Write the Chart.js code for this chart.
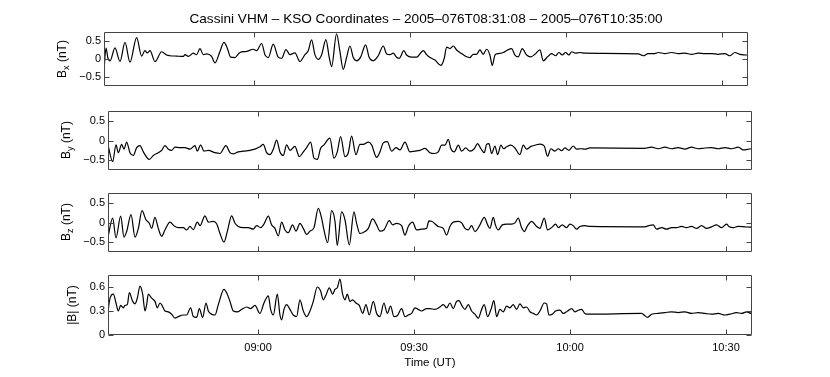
<!DOCTYPE html>
<html>
<head>
<meta charset="utf-8">
<script src="https://cdn.jsdelivr.net/npm/chart.js@4.4.1/dist/chart.umd.min.js"></script>
<style>
  body { margin: 0; background: #fff; }
  #wrap { position: relative; width: 830px; height: 377px; overflow: hidden; }
  canvas { position: absolute; left: 0; }
  .yl { position: absolute; transform: translate(-50%, -50%) rotate(-90deg); font: 12px "Liberation Sans", Arial, sans-serif; white-space: nowrap; color: #000; }
  .yl sub { font-size: 9px; vertical-align: -3px; line-height: 0; }
</style>
</head>
<body>
<div id="wrap">
  <canvas id="c1" width="830" height="96" style="top:0px"></canvas>
  <canvas id="c2" width="830" height="79" style="top:101px"></canvas>
  <canvas id="c3" width="830" height="79" style="top:183px"></canvas>
  <canvas id="c4" width="830" height="112" style="top:265px"></canvas>
  <div class="yl" style="left:62px;top:59px">B<sub>x</sub> (nT)</div>
  <div class="yl" style="left:66px;top:140px">B<sub>y</sub> (nT)</div>
  <div class="yl" style="left:66px;top:222px">B<sub>z</sub> (nT)</div>
  <div class="yl" style="left:72px;top:305px">|B| (nT)</div>
</div>
<script>
// time in minutes after 08:00 UT, field in nT
const tStart = 31 + 8 / 60;   // 08:31:08
const tEnd = 155;             // 10:35:00
const xTickValues = [60, 90, 120, 150];
const xTickLabels = ['09:00', '09:30', '10:00', '10:30'];
const compTicks = [-0.5, 0, 0.5];
const compTickLabels = ['\u22120.5', '0', '0.5'];
const magTicks = [0, 0.3, 0.6];
const magTickLabels = ['0', '0.3', '0.6'];

const bxTime = [31.13,31.52,31.90,32.29,33.25,34.21,35.17,36.13,37.41,38.37,39.01,39.46,39.98,40.94,42.22,43.18,43.82,45.10,46.39,46.71,47.35,48.31,48.95,49.59,50.23,50.87,51.83,52.48,53.44,54.21,54.85,55.49,56.32,57.28,58.56,59.85,60.49,61.45,62.09,62.73,63.69,64.65,65.29,66.13,66.90,67.86,68.82,69.78,70.42,71.06,71.70,72.35,72.99,73.82,74.46,74.91,75.87,76.51,77.15,77.79,78.44,79.08,79.72,80.49,81.45,82.15,82.92,83.88,84.85,85.49,86.13,86.77,87.41,87.92,88.82,89.33,90.29,91.26,92.54,93.18,93.83,94.79,95.94,96.58,97.03,97.67,98.31,98.95,99.92,100.88,101.52,102.16,102.80,103.44,104.08,104.72,105.36,105.81,106.33,106.97,107.93,108.76,109.53,110.17,110.81,111.58,112.42,113.25,114.02,114.98,115.62,116.45,117.22,117.99,118.63,119.27,119.92,120.56,121.07,121.84,122.67,123.63,133.89,134.85,135.81,137.09,137.73,139.02,140.30,141.58,142.86,144.15,145.43,146.71,147.99,149.27,150.56,151.52,152.48,153.44,154.73,155.00];
const bxVal = [-0.32,0.30,0.02,-0.05,0.31,-0.07,0.46,-0.09,0.59,0.08,0.23,0.17,0.23,-0.07,0.20,0.11,0.09,0.08,0.07,0.12,0.07,0.16,0.12,0.29,0.12,0.14,0.07,-0.11,0.21,0.46,0.30,0.05,0.04,0.18,0.21,0.27,0.23,0.43,0.12,0.04,0.41,0.05,0.02,0.26,0.12,0.17,-0.07,0.12,0.23,0.53,0.12,-0.01,0.12,0.54,0.04,-0.21,0.70,0.21,-0.29,0.04,0.36,0.04,-0.05,0.05,0.39,0.04,-0.05,0.09,0.36,0.14,0.12,0.16,0.05,0.02,0.23,0.11,0.05,0.05,0.23,0.12,0.04,-0.03,-0.18,0.02,0.33,0.29,0.36,0.25,0.15,0.06,0.04,0.13,0.13,0.25,0.13,0.27,0.11,-0.18,0.11,0.15,0.18,0.25,0.29,0.11,0.06,0.29,0.11,0.06,0.13,0.25,-0.05,0.06,0.15,0.09,0.18,0.11,0.18,0.11,0.20,0.16,0.18,0.16,0.14,0.09,0.15,0.15,0.18,0.15,0.18,0.15,0.16,0.13,0.16,0.15,0.15,0.13,0.15,0.09,0.18,0.13,0.11,0.11];

const byTime = [31.13,32.03,32.67,33.12,33.76,34.21,34.72,35.36,36.00,36.65,37.29,37.93,39.08,39.85,40.81,41.45,42.09,42.74,43.38,44.02,44.98,45.94,46.90,47.86,48.31,48.95,49.59,50.43,51.71,52.67,53.82,54.59,55.24,56.20,57.16,58.44,59.40,60.36,61.00,61.65,62.29,62.93,63.57,64.21,64.85,65.49,66.13,67.09,67.93,68.70,69.34,70.11,70.75,71.39,72.03,72.67,73.82,74.59,75.23,75.88,76.71,77.35,77.99,78.82,79.59,80.23,81.20,81.84,82.80,83.44,84.08,84.85,85.68,86.52,87.29,88.25,89.21,90.17,91.13,92.09,93.05,93.89,94.66,95.30,95.94,96.58,97.09,97.74,98.51,99.15,99.92,100.75,101.58,102.22,102.86,103.50,103.95,104.40,104.92,105.56,106.07,106.71,107.22,107.80,108.63,109.40,110.36,111.00,111.65,112.48,113.25,114.21,115.04,115.68,116.32,117.09,117.74,118.38,119.02,119.79,120.62,121.26,122.09,122.86,123.82,134.08,134.72,135.69,136.97,138.25,139.53,140.81,142.09,143.38,144.66,145.94,147.22,148.50,149.79,151.07,152.35,153.31,154.91,155.00];
const byVal = [-0.11,-0.54,-0.11,-0.31,-0.10,-0.22,-0.04,-0.31,-0.38,-0.18,-0.13,-0.29,-0.48,-0.38,-0.31,-0.25,-0.13,-0.22,-0.25,-0.17,-0.18,-0.18,-0.22,-0.13,-0.27,-0.11,-0.27,-0.25,-0.31,-0.33,-0.13,-0.31,-0.34,-0.29,-0.27,-0.25,-0.22,-0.16,-0.10,-0.31,-0.36,-0.22,0.01,-0.29,-0.38,-0.11,-0.25,-0.15,-0.41,-0.29,-0.18,-0.04,-0.45,-0.48,-0.20,-0.11,0.06,-0.45,-0.29,0.10,-0.41,-0.31,0.11,-0.36,-0.10,-0.10,-0.04,-0.11,-0.43,-0.29,-0.06,-0.03,-0.27,-0.18,-0.24,-0.04,-0.29,-0.27,-0.25,-0.20,-0.31,-0.33,-0.29,-0.12,-0.12,0.03,-0.21,-0.29,-0.12,-0.27,-0.19,-0.27,-0.21,-0.08,-0.21,-0.31,-0.10,-0.08,-0.33,-0.14,-0.36,-0.12,-0.21,-0.16,-0.12,-0.19,-0.36,-0.12,-0.22,-0.15,-0.12,-0.09,-0.14,-0.40,-0.21,-0.27,-0.21,-0.26,-0.19,-0.25,-0.14,-0.22,-0.21,-0.22,-0.19,-0.20,-0.19,-0.17,-0.21,-0.17,-0.21,-0.18,-0.22,-0.17,-0.21,-0.19,-0.18,-0.21,-0.18,-0.21,-0.17,-0.24,-0.21,-0.21];

const bzTime = [31.13,32.03,32.67,33.57,34.21,34.72,35.56,36.33,36.97,37.67,38.44,39.08,39.53,40.17,40.81,41.45,42.09,43.06,43.82,44.66,45.62,46.26,46.90,47.54,48.31,48.83,49.79,50.43,51.39,52.03,52.67,53.44,54.08,54.91,55.56,56.20,57.16,58.12,59.08,59.72,60.49,61.13,61.97,62.61,63.25,63.89,64.53,65.17,65.81,66.64,67.29,68.05,68.70,69.34,69.98,70.75,71.58,72.22,72.67,73.38,74.14,74.79,75.23,76.07,76.71,77.54,78.44,78.95,79.59,80.56,81.20,82.03,82.80,83.44,84.21,85.23,85.88,86.64,87.61,88.25,88.89,89.72,90.49,91.45,92.41,92.86,93.38,94.66,95.62,96.26,96.90,97.54,98.51,99.15,99.79,100.43,101.07,101.71,102.67,103.50,104.15,104.59,105.24,105.69,106.20,106.97,107.80,108.76,109.40,110.04,110.68,111.20,111.84,112.61,113.57,114.21,115.04,115.68,116.45,117.22,117.74,118.50,119.34,119.98,120.62,121.26,121.90,122.86,123.82,134.40,135.17,136.00,136.64,137.61,138.57,139.53,140.49,141.45,142.41,143.38,144.34,145.30,146.26,147.22,148.18,149.14,150.11,150.56,151.39,152.35,153.63,154.91,155.00];
const bzVal = [-0.37,0.11,-0.39,0.16,-0.37,-0.23,0.20,-0.37,-0.15,0.30,0.07,-0.02,-0.15,0.13,-0.15,-0.35,-0.19,0.01,-0.08,-0.13,-0.13,-0.19,-0.10,-0.18,0.01,-0.08,0.17,0.01,0.03,-0.03,-0.28,-0.50,-0.23,0.17,-0.02,-0.10,-0.13,-0.13,-0.17,-0.08,-0.13,-0.04,0.16,-0.06,-0.15,-0.34,0.01,-0.19,-0.26,-0.06,-0.22,-0.02,-0.15,-0.30,-0.22,-0.13,0.36,0.11,-0.19,-0.51,0.30,0.03,-0.58,0.27,0.07,-0.57,0.27,-0.02,-0.28,-0.23,-0.15,0.09,-0.06,-0.22,-0.19,0.05,-0.06,-0.02,-0.08,-0.32,-0.10,0.01,-0.19,-0.17,-0.15,0.04,0.03,-0.10,-0.15,-0.32,-0.10,0.01,0.03,-0.01,-0.15,-0.19,-0.08,-0.23,-0.06,0.13,-0.06,-0.15,0.13,-0.08,-0.19,-0.06,-0.04,-0.04,-0.01,0.11,-0.13,-0.23,-0.08,0.03,-0.10,-0.15,0.11,-0.19,-0.13,-0.04,-0.13,-0.06,-0.13,-0.04,-0.08,-0.17,-0.10,-0.08,-0.10,-0.11,-0.08,-0.06,-0.17,-0.13,-0.17,-0.13,-0.13,-0.10,-0.13,-0.10,-0.15,-0.08,-0.15,-0.11,-0.06,-0.13,-0.04,-0.10,-0.13,-0.10,-0.11,-0.12,-0.12];

const btTime = [31.13,31.39,32.16,32.67,33.12,33.57,34.08,34.40,34.85,35.24,35.88,36.33,36.77,37.29,37.80,38.25,38.57,38.89,39.53,40.17,40.62,41.13,41.45,42.09,42.74,43.38,44.02,44.66,45.62,46.26,47.03,47.54,48.18,48.70,49.34,49.98,50.43,51.07,51.71,52.35,53.44,54.08,54.59,55.24,56.00,56.84,57.80,58.57,59.40,60.36,61.13,61.97,62.41,62.93,63.70,64.21,64.53,64.98,65.49,66.13,66.77,67.41,68.05,68.70,69.34,69.98,70.62,71.39,72.03,72.54,73.06,73.70,74.34,74.79,75.23,75.75,76.26,76.71,77.16,77.67,78.18,78.82,79.47,80.11,80.75,81.39,82.16,82.80,83.44,84.21,84.85,85.49,86.13,86.77,87.61,88.25,88.89,89.53,90.17,90.81,91.45,92.41,93.06,94.02,94.98,95.62,96.26,96.90,97.54,98.18,98.63,99.27,99.79,100.43,101.07,101.71,102.35,102.99,103.50,104.15,104.79,105.36,105.88,106.52,107.16,107.80,108.44,109.08,109.72,110.36,111.00,111.65,112.29,112.93,113.57,114.21,115.04,115.49,115.94,116.58,117.22,118.06,118.70,119.53,120.30,120.94,121.58,122.22,122.86,123.63,133.76,134.40,134.91,135.69,136.97,138.25,139.53,140.81,142.09,143.38,144.66,145.94,147.22,148.50,149.79,150.75,152.03,153.00,153.96,154.91,155.00];
const btVal = [0.27,0.42,0.51,0.40,0.30,0.37,0.34,0.37,0.38,0.53,0.42,0.39,0.46,0.61,0.51,0.30,0.38,0.51,0.46,0.42,0.34,0.40,0.38,0.30,0.29,0.26,0.21,0.23,0.25,0.25,0.34,0.23,0.22,0.33,0.22,0.40,0.30,0.26,0.25,0.38,0.57,0.51,0.42,0.30,0.29,0.32,0.35,0.33,0.37,0.27,0.40,0.49,0.32,0.25,0.51,0.25,0.19,0.32,0.38,0.32,0.25,0.23,0.44,0.30,0.23,0.30,0.42,0.60,0.55,0.44,0.50,0.59,0.51,0.57,0.59,0.70,0.51,0.44,0.51,0.42,0.44,0.40,0.37,0.27,0.38,0.25,0.42,0.27,0.23,0.40,0.27,0.36,0.23,0.24,0.33,0.23,0.25,0.27,0.34,0.32,0.30,0.33,0.33,0.32,0.35,0.38,0.34,0.40,0.33,0.42,0.43,0.36,0.32,0.38,0.30,0.26,0.21,0.32,0.38,0.23,0.32,0.43,0.23,0.32,0.29,0.36,0.34,0.38,0.32,0.39,0.34,0.35,0.29,0.27,0.25,0.30,0.40,0.39,0.25,0.26,0.30,0.31,0.27,0.30,0.33,0.29,0.31,0.32,0.27,0.26,0.27,0.24,0.22,0.26,0.27,0.28,0.29,0.28,0.29,0.27,0.28,0.27,0.26,0.27,0.25,0.26,0.28,0.27,0.29,0.27,0.27];

const FONT = '"Liberation Sans", Arial, sans-serif';
const BOX = '#444';

// box round the plot area plus inward tick marks on all four sides
const framePlugin = {
  id: 'frame',
  afterDatasetsDraw(chart) {
    const { ctx, chartArea: a, scales } = chart;
    const L = Math.round(a.left) + 0.5, R = Math.round(a.right) - 0.5;
    const T = Math.round(a.top) + 0.5, B = Math.round(a.bottom) - 0.5;
    ctx.save();
    ctx.strokeStyle = BOX;
    ctx.lineWidth = 1;
    ctx.beginPath();
    xTickValues.forEach(v => {
      const px = Math.round(scales.x.getPixelForValue(v)) + 0.5;
      ctx.moveTo(px, T); ctx.lineTo(px, T + 5);
      ctx.moveTo(px, B); ctx.lineTo(px, B - 5);
    });
    scales.y.ticks.forEach(t => {
      const py = Math.round(scales.y.getPixelForValue(t.value)) + 0.5;
      ctx.moveTo(L, py); ctx.lineTo(L + 5, py);
      ctx.moveTo(R, py); ctx.lineTo(R - 5, py);
    });
    ctx.rect(L, T, R - L, B - T);
    ctx.stroke();
    ctx.restore();
  }
};

function makePanel(id, times, vals, opt) {
  const xScale = {
    type: 'linear', min: tStart, max: tEnd,
    display: opt.showX,
    grid: { drawOnChartArea: false, drawTicks: false },
    border: { display: false },
    afterBuildTicks: s => { s.ticks = xTickValues.map(v => ({ value: v })); },
    ticks: {
      padding: 6, color: '#000', font: { family: FONT, size: 11 },
      callback: v => xTickLabels[xTickValues.indexOf(v)]
    }
  };
  if (opt.showX) {
    xScale.title = { display: true, text: 'Time (UT)', color: '#000', font: { family: FONT, size: 11.5 }, padding: { top: 2, bottom: 7 } };
    xScale.afterFit = s => { s.height = 42; };
  }
  return new Chart(document.getElementById(id), {
    type: 'line',
    data: {
      datasets: [{
        data: times.map((t, i) => ({ x: t, y: vals[i] })),
        borderColor: '#000',
        borderWidth: 1.2,
        pointRadius: 0,
        cubicInterpolationMode: 'monotone',
        fill: false
      }]
    },
    options: {
      responsive: false,
      animation: false,
      layout: { padding: { left: 0, right: opt.right, top: opt.top, bottom: opt.bottom } },
      plugins: {
        legend: { display: false },
        tooltip: { enabled: false },
        title: opt.title ? {
          display: true, text: opt.title, fullSize: false, color: '#000',
          font: { family: FONT, size: 13.6, weight: 'normal', lineHeight: 1.1 },
          padding: { top: 12, bottom: 5 }
        } : { display: false }
      },
      scales: {
        x: xScale,
        y: {
          type: 'linear', min: opt.ymin, max: opt.ymax,
          grid: { drawOnChartArea: false, drawTicks: false },
          border: { display: false },
          afterFit: s => { s.width = opt.left; },
          afterBuildTicks: s => { s.ticks = opt.yTicks.map(v => ({ value: v })); },
          ticks: {
            padding: 3, color: '#000', font: { family: FONT, size: 11 },
            callback: v => opt.yLabels[opt.yTicks.indexOf(v)]
          }
        }
      }
    },
    plugins: [framePlugin]
  });
}

makePanel('c1', bxTime, bxVal, {
  title: 'Cassini VHM \u2013 KSO Coordinates \u2013 2005\u2013076T08:31:08 \u2013 2005\u2013076T10:35:00',
  left: 104, right: 82, top: 0, bottom: 10, ymin: -0.75, ymax: 0.75,
  yTicks: compTicks, yLabels: compTickLabels, showX: false
});
makePanel('c2', byTime, byVal, {
  left: 108, right: 78, top: 10, bottom: 10, ymin: -0.75, ymax: 0.75,
  yTicks: compTicks, yLabels: compTickLabels, showX: false
});
makePanel('c3', bzTime, bzVal, {
  left: 108, right: 78, top: 10, bottom: 10, ymin: -0.75, ymax: 0.75,
  yTicks: compTicks, yLabels: compTickLabels, showX: false
});
makePanel('c4', btTime, btVal, {
  left: 108, right: 78, top: 10, bottom: 0, ymin: 0, ymax: 0.75,
  yTicks: magTicks, yLabels: magTickLabels, showX: true
});
</script>
</body>
</html>
